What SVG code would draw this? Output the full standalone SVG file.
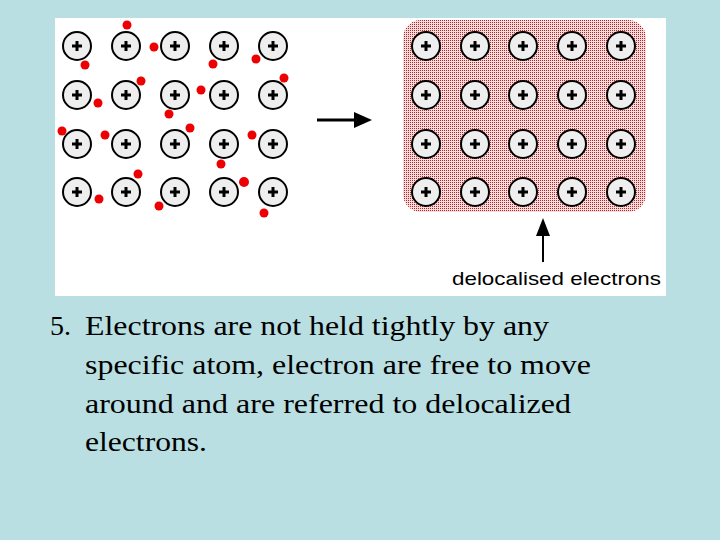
<svg xmlns="http://www.w3.org/2000/svg" width="720" height="540" viewBox="0 0 720 540">
<style>
.ion{fill:#eeeeee;stroke:#000;stroke-width:2}
.p{stroke:#000;stroke-width:3}
.e{fill:#ee0000}
.t{font-family:"Liberation Serif",serif;font-size:28px;fill:#000}
</style>
<defs>
<pattern id="dots" width="2" height="2" patternUnits="userSpaceOnUse">
<rect width="2" height="2" fill="#f6dcdc"/>
<rect width="1" height="1" fill="#b82424"/>
</pattern>
<symbol id="ion" overflow="visible">
<circle class="ion" cx="0" cy="0" r="14"/>
<path class="p" d="M-5 0H5M0 -5V5"/>
</symbol>
</defs>
<rect width="720" height="540" fill="#b9dfe3"/>
<rect x="55" y="18" width="611" height="278" fill="#fff"/>
<rect x="403" y="20" width="243" height="192" rx="18" fill="url(#dots)"/>
<g id="left-ions">
<use href="#ion" x="77" y="46"/><use href="#ion" x="126" y="46"/><use href="#ion" x="175" y="46"/><use href="#ion" x="224" y="46"/><use href="#ion" x="273" y="46"/>
<use href="#ion" x="77" y="95"/><use href="#ion" x="126" y="95"/><use href="#ion" x="175" y="95"/><use href="#ion" x="224" y="95"/><use href="#ion" x="273" y="95"/>
<use href="#ion" x="77" y="144"/><use href="#ion" x="126" y="144"/><use href="#ion" x="175" y="144"/><use href="#ion" x="224" y="144"/><use href="#ion" x="273" y="144"/>
<use href="#ion" x="77" y="192"/><use href="#ion" x="126" y="192"/><use href="#ion" x="175" y="192"/><use href="#ion" x="224" y="192"/><use href="#ion" x="273" y="192"/>
</g>
<g id="electrons" class="e">
<circle cx="127" cy="25" r="4.5"/><circle cx="85" cy="65" r="4.5"/><circle cx="154" cy="47" r="4.5"/><circle cx="213" cy="64" r="4.5"/><circle cx="256" cy="59" r="4.5"/>
<circle cx="98" cy="103" r="4.5"/><circle cx="141" cy="81" r="4.5"/><circle cx="169" cy="114" r="4.5"/><circle cx="201" cy="90" r="4.5"/><circle cx="284" cy="78" r="4.5"/>
<circle cx="62" cy="131" r="4.5"/><circle cx="105" cy="135" r="4.5"/><circle cx="190" cy="128" r="4.5"/><circle cx="252" cy="135" r="4.5"/><circle cx="221" cy="164" r="4.5"/>
<circle cx="138" cy="174" r="4.5"/><circle cx="99" cy="199" r="4.5"/><circle cx="159" cy="206" r="4.5"/><circle cx="244" cy="182" r="5"/><circle cx="264" cy="213" r="4.5"/>
</g>
<g id="right-ions">
<use href="#ion" x="426" y="46"/><use href="#ion" x="475" y="46"/><use href="#ion" x="523" y="46"/><use href="#ion" x="572" y="46"/><use href="#ion" x="621" y="46"/>
<use href="#ion" x="426" y="95"/><use href="#ion" x="475" y="95"/><use href="#ion" x="523" y="95"/><use href="#ion" x="572" y="95"/><use href="#ion" x="621" y="95"/>
<use href="#ion" x="426" y="144"/><use href="#ion" x="475" y="144"/><use href="#ion" x="523" y="144"/><use href="#ion" x="572" y="144"/><use href="#ion" x="621" y="144"/>
<use href="#ion" x="426" y="192"/><use href="#ion" x="475" y="192"/><use href="#ion" x="523" y="192"/><use href="#ion" x="572" y="192"/><use href="#ion" x="621" y="192"/>
</g>
<g id="connectors">
<path d="M317 120H356" stroke="#000" stroke-width="3"/>
<path d="M372 120L354 112V128Z"/>
<path d="M543 262V234" stroke="#000" stroke-width="2"/>
<path d="M543 218L536 236H550Z"/>
</g>
<text x="452" y="285" font-family="'Liberation Sans',sans-serif" font-size="19" fill="#000" textLength="209" lengthAdjust="spacingAndGlyphs">delocalised electrons</text>
<g class="t">
<text x="50" y="335">5.</text>
<text x="85" y="335" textLength="464" lengthAdjust="spacingAndGlyphs">Electrons are not held tightly by any</text>
<text x="85" y="374" textLength="506" lengthAdjust="spacingAndGlyphs">specific atom, electron are free to move</text>
<text x="85" y="413" textLength="486" lengthAdjust="spacingAndGlyphs">around and are referred to delocalized</text>
<text x="85" y="451" textLength="122" lengthAdjust="spacingAndGlyphs">electrons.</text>
</g>
</svg>
